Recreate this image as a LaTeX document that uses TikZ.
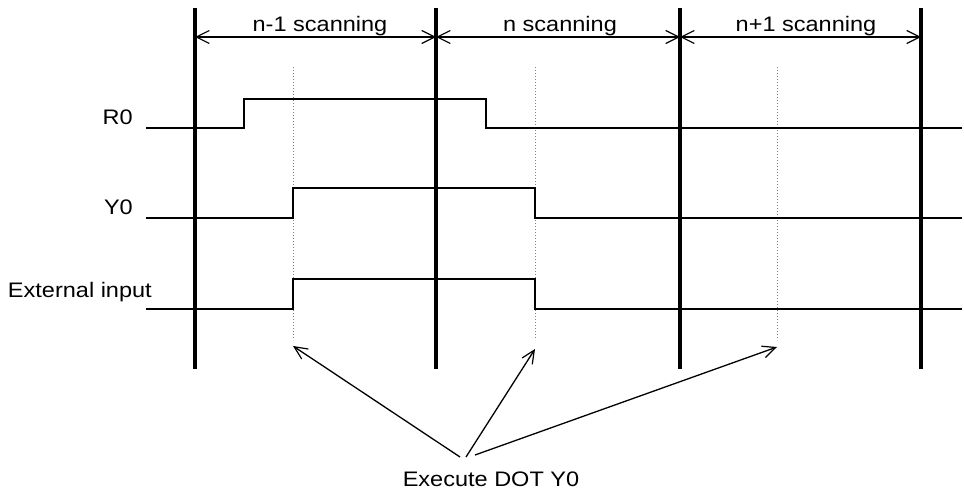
\documentclass[tikz,border=0pt]{standalone}
\usepackage{fontspec}
\setmainfont{Liberation Sans}[FakeStretch=1.12]
\usetikzlibrary{arrows.meta}
\begin{document}
\begin{tikzpicture}[x=1pt,y=-1pt,
  lbl/.style={font=\fontsize{21}{24}\selectfont, inner sep=0pt},
  scanline/.style={line width=3.3pt},
  sig/.style={line width=2.4pt},
  dim/.style={line width=1.3pt, {Straight Barb[length=13pt,width=13pt,line width=1.2pt]}-{Straight Barb[length=13pt,width=13pt,line width=1.2pt]}},
  dotv/.style={line width=1pt, gray, dotted},
  ptr/.style={line width=1.3pt, -{Straight Barb[length=13pt,width=12pt,line width=1.2pt]}}]
\useasboundingbox (0,0) rectangle (964,495);
% scan boundaries
\foreach \n/\x in {a/195,b/436,c/680,d/921}{
  \coordinate (\n t) at (\x,8);
  \coordinate (\n b) at (\x,369);
  \coordinate (\n m) at (\x,37);
  \draw[scanline] (\n t) -- (\n b);
}
\draw[dim] (am) -- (bm);
\draw[dim] (bm) -- (cm);
\draw[dim] (cm) -- (dm);
\node[lbl, anchor=base] (l1) at (320,32) {n-1 scanning};
\node[lbl, anchor=base] (l2) at (560,32) {n scanning};
\node[lbl, anchor=base] (l3) at (806,32) {n+1 scanning};
% dotted execution lines
\foreach \n/\x in {p/293,q/535,r/777}{
  \coordinate (\n t) at (\x,67);
  \coordinate (\n b) at (\x,340);
  \draw[dotv] (\n t) -- (\n b);
}
% signal labels
\node[lbl, anchor=base east] (r0) at (133,124) {R0};
\node[lbl, anchor=base east] (y0) at (133,214) {Y0};
\node[lbl, anchor=base east] (ext) at (152,297) {External input};
% signals
\draw[sig] (146,128) -- (244,128) -- (244,99) -- (486,99) -- (486,128) -- (962,128);
\draw[sig] (146,218) -- (293,218) -- (293,188) -- (535,188) -- (535,218) -- (962,218);
\draw[sig] (146,309) -- (293,309) -- (293,279) -- (535,279) -- (535,309) -- (962,309);
% execute label and pointers
\node[lbl, anchor=base] (ex) at (491,486) {Execute DOT Y0};
\coordinate (s1) at (460,457);
\coordinate (s2) at (466,457);
\coordinate (s3) at (475,455);
\coordinate (e1) at (293,346);
\coordinate (e2) at (535,349);
\coordinate (e3) at (777,347);
\draw[ptr] (s1) -- (e1);
\draw[ptr] (s2) -- (e2);
\draw[ptr] (s3) -- (e3);
\end{tikzpicture}
\end{document}
